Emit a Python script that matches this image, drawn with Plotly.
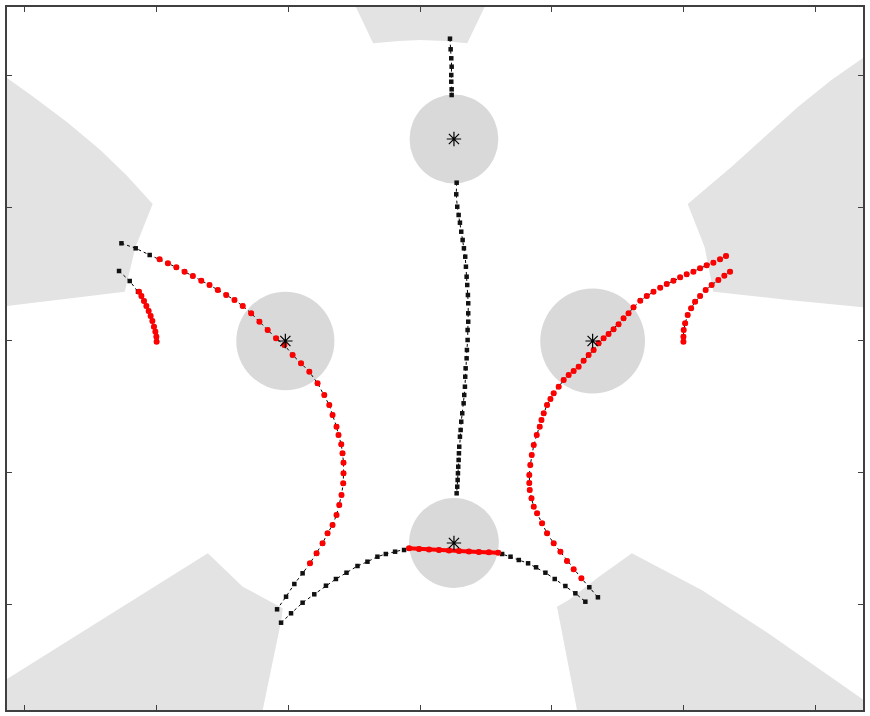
import plotly.graph_objects as go

# ---------------- data (units: 1 = 1 px of the reference, origin at workspace centre) -------------
# gray outer regions (boundary vertices)
region_ul_x = [-414, -388, -354, -321, -294, -268, -285.3, -296, -414]
region_ul_y = [262, 243.5, 218, 190.5, 164.5, 136, 92.7, 48.3, 34]
region_ur_x = [444, 412.3, 379, 345.7, 312.3, 268.3, 285.3, 294, 369, 444]
region_ur_y = [282, 260, 233.3, 203.3, 173.3, 136, 92.7, 48.3, 40, 32.7]
region_ll_x = [-414, -321, -212.7, -177.7, -137.7, -139, -157.7, -414]
region_ll_y = [-339, -280.7, -213.3, -246.7, -268.3, -280, -370, -370]
region_lr_x = [157.3, 137.3, 149, 179, 212.3, 282.3, 349, 442.3, 444, 444]
region_lr_y = [-370, -266.7, -260, -237, -213.3, -250, -293.3, -358.3, -359.5, -370]
region_top_x = [-64.3, -47, -21, 0, 24, 47.3, 64.7]
region_top_y = [333, 296.7, 299, 300, 299, 296.7, 333]

# obstacles (circles) and their centres
obst_x = [34, -135, 173, 34]
obst_y = [201, -1, -1, -203]
obst_r = [44.5, 49.2, 52.5, 45]

# trajectories
top_x = [30, 30.7, 31.3, 31.7, 31.3, 31.3, 31.7, 31.7]
top_y = [301.3, 290.7, 281.7, 273.3, 265, 258.3, 250.7, 245]

mid_x = [36.7, 36.3, 37.3, 38.7, 40, 41.3, 42.7, 44, 45.3, 46, 46.7, 47.3, 48, 48.3, 48.3, 48.3,
         47.7, 47.7, 47, 46.7, 45.7, 45.3, 45, 44.3, 43.7, 42.3, 41.3, 40.7, 40, 39.3, 39, 38.7,
         38.3, 38, 37.7, 37.3, 36.7]
mid_y = [157.3, 145.7, 133.3, 125, 117.3, 108.3, 100, 91.7, 83.3, 73.3, 63.3, 55, 45, 36.7, 26.7,
         18.3, 10, 0, -10, -18.3, -28.3, -36.7, -46.7, -55, -63.3, -73.3, -81.7, -90, -96.7,
         -106.7, -113.3, -120, -126.7, -133.3, -140, -146.7, -153.3]

left_x = [-299.3, -285, -271,
          -261, -252.7, -244.3, -236, -227.7, -219.3, -211, -202.7, -194.3, -186, -177.7, -169.3,
          -161, -152.7, -144.3, -136, -127.7, -119.3, -111, -102.7, -96, -91, -87.7, -83.7, -81.7,
          -79, -77.7, -76.7, -76.7, -77, -78.7, -81, -83.7, -87.7, -92.7, -97.7, -103.7, -110.3,
          -117.7, -126, -134.3, -143.3]
left_y = [96.7, 91.7, 85,
          80.7, 76.7, 72.7, 68.3, 64, 59.3, 55, 50, 45, 40, 34, 26.7,
          18.3, 10, 1.7, -5, -15, -23.3, -31.7, -43.3, -55, -65, -75, -86.7, -95,
          -104.3, -113.3, -122.7, -133.3, -143.3, -155, -165, -175, -185, -193.3, -203.3, -213.3, -223.3,
          -233.3, -244, -256.7, -269.3]
left_red = (3, 41)

lshort_x = [-301.7, -291, -282.7, -281.7, -279.3, -276.7, -274.3, -272, -270, -268.3, -266.7,
            -265.3, -264.3, -264]
lshort_y = [69, 59, 48.3, 48.3, 44, 39, 34, 29, 24, 19, 13.3, 8.3, 3.3, -1.7]
lshort_red = (3, 14)

bottom_x = [-139.3, -129.3, -117.7, -106, -94.3, -84.3, -73.7, -62.7, -52.7, -42.7, -34.3, -25, -16,
            -11, -1, 9, 19, 29, 39, 49, 59, 69, 78.3,
            82.3, 90.7, 99, 108.3, 116.3, 125.7, 135, 145.7, 155.7, 165.7]
bottom_y = [-282.7, -273.3, -262.7, -254.3, -245.7, -239, -232.7, -226, -221.7, -216.7, -214, -211.7, -210,
            -208.3, -209, -209.5, -210, -210.5, -211, -211.5, -212, -212.3, -212.7,
            -214, -216.7, -220, -223.3, -227.3, -232.7, -239, -246, -253.3, -261.7]
bottom_red = (13, 23)

right_x = [306.7, 300.7, 294, 287.3, 280.7, 274, 267.3, 260.7, 254, 247.3, 240.7, 234, 227.3, 220.7,
           214, 209, 204, 199, 194, 189, 184, 179, 174, 169, 164, 159, 154, 149, 144, 139, 134,
           130.7, 127.3, 124, 121.7, 120, 117, 114, 112, 110.5, 109.5, 109.5, 110, 111.7, 114,
           117.3, 122.3, 127.3, 134, 140.7, 147.3, 154, 161.7,
           169.7, 178.3]
right_y = [84, 80.7, 77.3, 74.7, 71.7, 68.3, 65.7, 62.7, 59.3, 56, 52.3, 48.3, 44, 39.3,
           32.7, 26.7, 21.7, 15.7, 10.7, 6, 1.7, -3.3, -10, -15, -20.7, -26.7, -31, -35, -40, -46.7, -53.3,
           -59, -65, -73.3, -80, -86.7, -95, -105, -115, -125, -135, -143, -150, -158.3, -166.7,
           -173.3, -183.3, -193.3, -203.3, -211.7, -221, -229.3, -238.3,
           -247.3, -257.3]
right_red = (0, 53)

rshort_x = [310.7, 305, 299, 292.3, 286.3, 280.7, 275.7, 271.7, 268.3, 265.7, 264.3, 264, 264]
rshort_y = [68.3, 64.3, 60, 55, 50, 44, 38.3, 31.7, 25, 16.7, 10, 3.3, -1.7]
rshort_red = (0, 13)

x_range = [-414, 444]
y_range = [-370, 333]
tick_step = 132.2

# ---------------- figure -------------
fig = go.Figure()

REGION = "#e3e3e3"
OBST = "#d9d9d9"

for rx, ry in [(region_ul_x, region_ul_y), (region_ur_x, region_ur_y), (region_ll_x, region_ll_y),
               (region_lr_x, region_lr_y), (region_top_x, region_top_y)]:
    fig.add_trace(go.Scatter(x=rx, y=ry, mode="lines", fill="toself", fillcolor=REGION,
                             line=dict(width=0, color=REGION), hoverinfo="skip"))

shapes = []
for cx, cy, r in zip(obst_x, obst_y, obst_r):
    shapes.append(dict(type="circle", xref="x", yref="y", x0=cx - r, x1=cx + r, y0=cy - r, y1=cy + r,
                       fillcolor=OBST, line=dict(width=0), layer="below"))

paths = [
    (top_x, top_y, None),
    (mid_x, mid_y, None),
    (left_x, left_y, left_red),
    (lshort_x, lshort_y, lshort_red),
    (bottom_x, bottom_y, bottom_red),
    (right_x, right_y, right_red),
    (rshort_x, rshort_y, rshort_red),
]

for px, py, _ in paths:
    fig.add_trace(go.Scatter(x=px, y=py, mode="lines+markers",
                             line=dict(color="black", width=1, dash="dot"),
                             marker=dict(symbol="square", size=4.5, color="#111111"),
                             hoverinfo="skip"))

for px, py, red in paths:
    if red is None:
        continue
    a, b = red
    is_bottom = px is bottom_x
    fig.add_trace(go.Scatter(x=px[a:b], y=py[a:b],
                             mode="lines+markers" if is_bottom else "markers",
                             line=dict(color="#ff0000", width=4),
                             marker=dict(symbol="circle", size=6, color="#ff0000"),
                             hoverinfo="skip"))

fig.add_trace(go.Scatter(x=obst_x, y=obst_y, mode="markers",
                         marker=dict(symbol="asterisk-open", size=12, color="black",
                                     line=dict(color="black", width=1.2)),
                         hoverinfo="skip"))

axis_common = dict(showgrid=False, zeroline=False, showticklabels=False, ticks="inside",
                   ticklen=5, tickwidth=1, tickcolor="#404040", showline=True,
                   linecolor="#404040", linewidth=1.5, mirror="ticks",
                   tick0=0, dtick=tick_step)

fig.update_layout(
    width=870, height=716,
    margin=dict(l=7, r=5, t=7, b=6),
    paper_bgcolor="white", plot_bgcolor="white",
    showlegend=False,
    shapes=shapes,
    xaxis=dict(range=x_range, **axis_common),
    yaxis=dict(range=y_range, **axis_common),
)

fig.write_html("out.html", config={"displayModeBar": False},
               post_script="document.body.style.margin='0px';document.body.style.overflow='hidden';")
